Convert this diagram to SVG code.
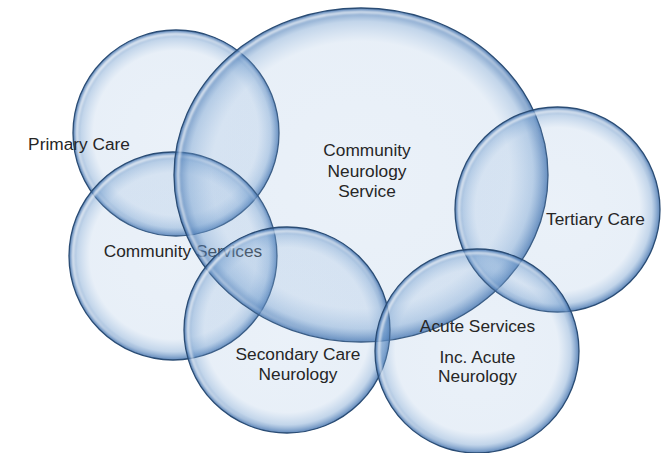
<svg xmlns="http://www.w3.org/2000/svg" width="669" height="453" viewBox="0 0 669 453">
  <defs>
    <radialGradient id="bub" cx="50%" cy="50%" r="50%">
      <stop offset="0" stop-color="rgb(133,172,216)" stop-opacity="0.17"/>
      <stop offset="0.8" stop-color="rgb(133,172,216)" stop-opacity="0.19"/>
      <stop offset="0.92" stop-color="rgb(110,155,205)" stop-opacity="0.42"/>
      <stop offset="1" stop-color="rgb(55,105,168)" stop-opacity="0.8"/>
    </radialGradient>
    <linearGradient id="hl" x1="0" y1="0" x2="1" y2="1">
      <stop offset="0" stop-color="#ffffff" stop-opacity="0.95"/>
      <stop offset="0.45" stop-color="#ffffff" stop-opacity="0.55"/>
      <stop offset="0.7" stop-color="#ffffff" stop-opacity="0"/>
    </linearGradient>
    <filter id="soft" x="-10%" y="-10%" width="120%" height="120%">
      <feGaussianBlur stdDeviation="0.8"/>
    </filter>
  </defs>
  <style>
    .bubble { fill: url(#bub); stroke: #2a4c74; stroke-width: 1.3; }
    .shine { fill: none; stroke: url(#hl); stroke-width: 2.5; filter: url(#soft); }
    .label { font-family: "Liberation Sans", Arial, sans-serif; font-size: 17.3px; fill: #262626; text-anchor: middle; }
  </style>
  <rect width="669" height="453" fill="#ffffff"/>

  <g id="primary-care">
    <circle class="bubble" cx="176" cy="133" r="103"/>
    <circle class="shine" cx="176" cy="133" r="99"/>
    <text class="label" x="79" y="150">Primary Care</text>
  </g>

  <g id="community-services">
    <circle class="bubble" cx="173" cy="256" r="104"/>
    <circle class="shine" cx="173" cy="256" r="100"/>
    <text class="label" x="183" y="257">Community Services</text>
  </g>

  <g id="community-neurology-service">
    <ellipse class="bubble" cx="361" cy="175" rx="187" ry="167"/>
    <ellipse class="shine" cx="361" cy="175" rx="183" ry="163"/>
    <text class="label" x="367" y="156">Community</text>
    <text class="label" x="367" y="177">Neurology</text>
    <text class="label" x="367" y="197">Service</text>
  </g>

  <g id="secondary-care-neurology">
    <circle class="bubble" cx="287" cy="330" r="103"/>
    <circle class="shine" cx="287" cy="330" r="99"/>
    <text class="label" x="298" y="360">Secondary Care</text>
    <text class="label" x="298" y="380">Neurology</text>
  </g>

  <g id="tertiary-care">
    <circle class="bubble" cx="557.5" cy="209.5" r="102.5"/>
    <circle class="shine" cx="557.5" cy="209.5" r="98.5"/>
    <text class="label" x="595.5" y="225">Tertiary Care</text>
  </g>

  <g id="acute-services">
    <circle class="bubble" cx="477" cy="351" r="102"/>
    <circle class="shine" cx="477" cy="351" r="98"/>
    <text class="label" x="477.5" y="332">Acute Services</text>
    <text class="label" x="477.5" y="363">Inc. Acute</text>
    <text class="label" x="477.5" y="382">Neurology</text>
  </g>

  <g id="connectors"></g>
</svg>
